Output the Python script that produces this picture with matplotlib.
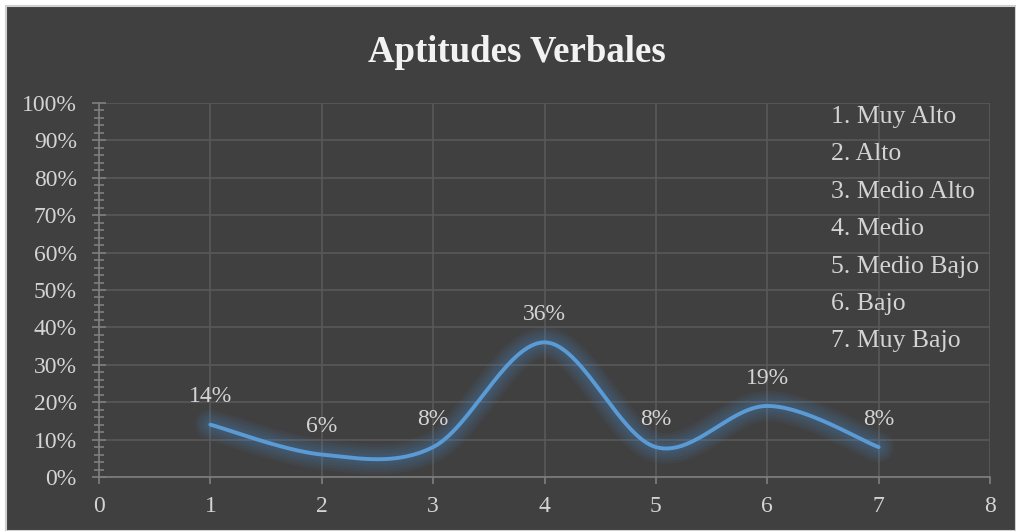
import numpy as np
import matplotlib.pyplot as plt
from matplotlib.patches import Rectangle
from matplotlib.ticker import MultipleLocator, FuncFormatter

# Aptitudes Verbales: porcentaje por nivel
niveles = ["Muy Alto", "Alto", "Medio Alto", "Medio", "Medio Bajo", "Bajo", "Muy Bajo"]
x_vals = [1, 2, 3, 4, 5, 6, 7]
pct = [14, 6, 8, 36, 8, 19, 8]
etiquetas = ["14%", "6%", "8%", "36%", "8%", "19%", "8%"]

BG = "#404040"
TXT = "#D4D4D4"
GRID = "#595959"
AXIS = "#7F7F7F"
LINE = "#5B9BD5"

plt.rcParams["font.family"] = ["Liberation Serif", "DejaVu Serif"]


def suavizar(xs, ys, n=60):
    # curva tipo Excel: Bezier cubica con puntos de control Catmull-Rom
    p = np.column_stack([xs, ys]).astype(float)
    p_ext = np.vstack([p[0], p, p[-1]])
    out = []
    t = np.linspace(0, 1, n)[:, None]
    for i in range(len(p) - 1):
        p0, p1, p2, p3 = p_ext[i], p_ext[i + 1], p_ext[i + 2], p_ext[i + 3]
        c1 = p1 + (p2 - p0) / 6
        c2 = p2 - (p3 - p1) / 6
        seg = ((1 - t) ** 3) * p1 + 3 * ((1 - t) ** 2) * t * c1 + 3 * (1 - t) * t ** 2 * c2 + t ** 3 * p2
        out.append(seg if i == 0 else seg[1:])
    out = np.vstack(out)
    return out[:, 0], out[:, 1]


fig = plt.figure(figsize=(10.16, 5.31), dpi=100)
fig.patch.set_facecolor("white")
fig.patches.append(Rectangle((6 / 1016, 0), 1 - 6 / 1016, 1 - 6 / 531,
                             transform=fig.transFigure, facecolor=BG,
                             edgecolor="#D0D0D0", linewidth=1.5, zorder=-10))

ax = fig.add_axes([99 / 1016, 1 - 477 / 531, (990 - 99) / 1016, (477 - 103) / 531])
ax.set_facecolor("none")

xs, ys = suavizar(x_vals, pct)
# brillo difuso alrededor de la linea
for lw in [22, 18, 14, 10, 7]:
    ax.plot(xs, ys, color="#4F8FD0", lw=lw, alpha=0.07, solid_capstyle="round", zorder=2)
ax.plot(xs, ys, color=LINE, lw=2.8, solid_capstyle="round", zorder=3)

for xv, yv, lab in zip(x_vals, pct, etiquetas):
    ax.annotate(lab, (xv, yv), xytext=(0, 20), textcoords="offset points",
                ha="center", va="center", color=TXT, fontsize=17, zorder=4)

ax.set_xlim(0, 8)
ax.set_ylim(0, 100)
ax.xaxis.set_major_locator(MultipleLocator(1))
ax.yaxis.set_major_locator(MultipleLocator(10))
ax.yaxis.set_minor_locator(MultipleLocator(2))
ax.yaxis.set_major_formatter(FuncFormatter(lambda v, _: f"{v:.0f}%"))

ax.grid(True, which="major", color=GRID, lw=1.2, zorder=0)
for s in ["top", "right"]:
    ax.spines[s].set_visible(False)
for s in ["left", "bottom"]:
    ax.spines[s].set_color(AXIS)
    ax.spines[s].set_linewidth(1.2)

ax.tick_params(axis="y", which="major", direction="inout", length=10, width=1.2,
               color=AXIS, labelcolor=TXT, labelsize=17, pad=11)
ax.tick_params(axis="y", which="minor", direction="inout", length=6.5, width=1.2,
               color=AXIS)
ax.tick_params(axis="x", which="major", direction="out", length=5, width=1.2,
               color=AXIS, labelcolor=TXT, labelsize=17, pad=9)

# lista de niveles a la derecha
for i, nombre in enumerate(niveles):
    ax.text(831 / 1016, 1 - (117 + i * 37.4) / 531, f"{i + 1}. {nombre}",
            transform=fig.transFigure, ha="left", va="center",
            color=TXT, fontsize=18.5)

fig.text(517 / 1016, 1 - 52 / 531, "Aptitudes Verbales", ha="center", va="center",
         color="#F2F2F2", fontsize=26.5, fontweight="bold")

fig.savefig("out.png", dpi=100, facecolor=fig.get_facecolor())
